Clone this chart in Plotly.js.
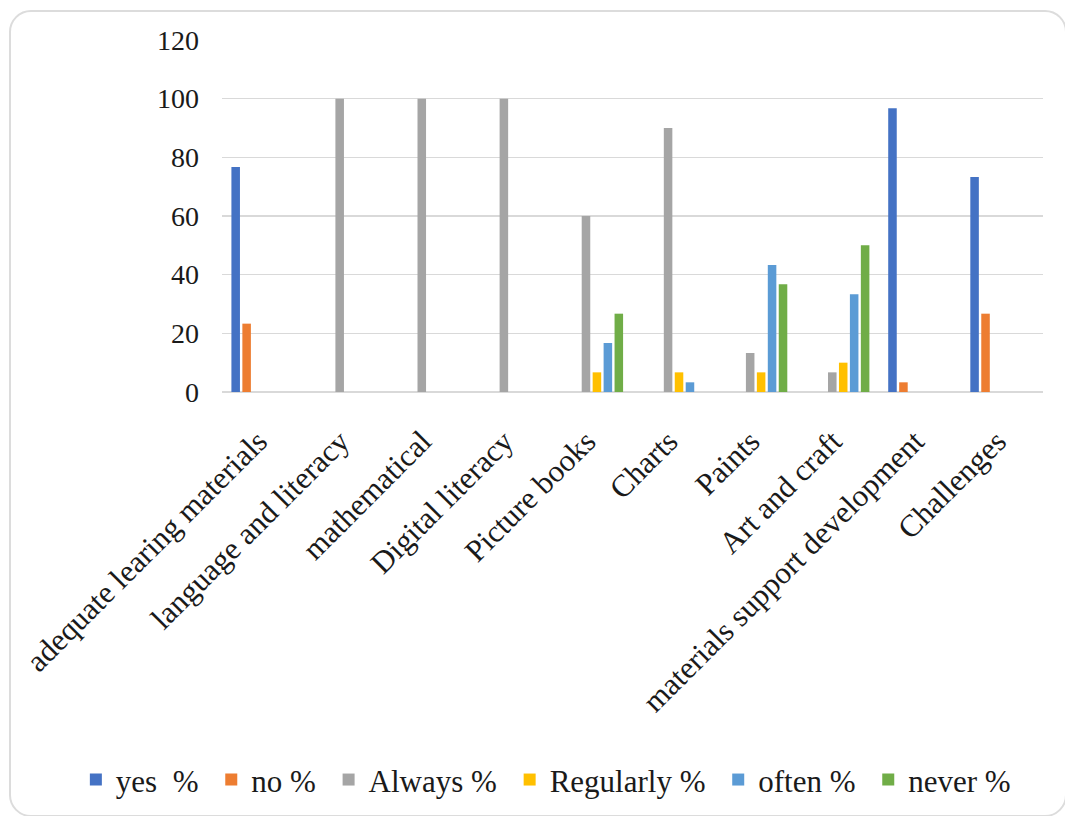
<!DOCTYPE html>
<html>
<head>
<meta charset="utf-8">
<script src="https://cdn.plot.ly/plotly-3.0.1.min.js"></script>
<style>
  html, body { margin: 0; padding: 0; background: #ffffff; }
  #wrap { position: relative; width: 1065px; height: 816px; overflow: hidden; }
  #chart { position: absolute; left: 0; top: 0; width: 1065px; height: 816px; }
  #frame {
    position: absolute; left: 9px; top: 10px; width: 1054px; height: 803px;
    border: 2px solid #dcdcdc; border-radius: 22px; pointer-events: none;
  }
</style>
</head>
<body>
<div id="wrap">
  <div id="chart"></div>
  <div id="frame"></div>
</div>
<script>
// Survey categories along the x axis
const categories = [
  "adequate learing materials",
  "language and literacy",
  "mathematical",
  "Digital literacy",
  "Picture books",
  "Charts",
  "Paints",
  "Art and craft",
  "materials support development",
  "Challenges"
];

// Percent responses per answer option (null = not asked for that item)
const yesPct       = [76.7, null, null, null, null, null, null, null, 96.7, 73.3];
const noPct        = [23.3, null, null, null, null, null, null, null, 3.3, 26.7];
const alwaysPct    = [null, 100, 100, 100, 60, 90, 13.3, 6.7, null, null];
const regularlyPct = [null, null, null, null, 6.7, 6.7, 6.7, 10, null, null];
const oftenPct     = [null, null, null, null, 16.7, 3.3, 43.3, 33.3, null, null];
const neverPct     = [null, null, null, null, 26.7, null, 36.7, 50, null, null];

// Legend labels (trailing no-break space widens the gap between entries)
const seriesNames = ["yes\u00A0\u00A0%\u00A0", "no %\u00A0", "Always %\u00A0", "Regularly %\u00A0", "often %\u00A0", "never %"];
const seriesValues = [yesPct, noPct, alwaysPct, regularlyPct, oftenPct, neverPct];
const seriesColors = ["#4472C4", "#ED7D31", "#A5A5A5", "#FFC000", "#5B9BD5", "#70AD47"];

const yTicks = [0, 20, 40, 60, 80, 100, 120];

const serif = "Liberation Serif, Times New Roman, serif";

const traces = seriesValues.map((vals, i) => ({
  type: "bar",
  name: seriesNames[i],
  x: categories,
  y: vals,
  marker: { color: seriesColors[i] },
  hoverinfo: "x+y+name"
}));

const layout = {
  width: 1065,
  height: 816,
  margin: { l: 222, r: 22, t: 40, b: 423 },
  paper_bgcolor: "rgba(0,0,0,0)",
  plot_bgcolor: "rgba(0,0,0,0)",
  barmode: "group",
  bargap: 0.2,
  bargroupgap: 0.22,
  font: { family: serif, size: 28, color: "#1a1a1a" },
  xaxis: {
    type: "category",
    tickangle: -45,
    ticks: "",
    showgrid: false,
    showline: false,
    zeroline: false,
    ticklabelstandoff: 24,
    ticklabelshift: -5,
    tickfont: { family: serif, size: 31, color: "#1a1a1a" },
    automargin: false
  },
  yaxis: {
    range: [0, 120],
    tickvals: yTicks,
    ticktext: yTicks.map(String),
    ticks: "",
    showline: false,
    showgrid: true,
    gridcolor: "#d9d9d9",
    gridwidth: 1.3,
    zeroline: true,
    zerolinecolor: "#d9d9d9",
    zerolinewidth: 1.3,
    ticklabelstandoff: 22,
    tickfont: { family: serif, size: 28, color: "#1a1a1a" },
    automargin: false
  },
  showlegend: true,
  legend: {
    orientation: "h",
    x: -0.178,
    xanchor: "left",
    y: -1.096,
    yanchor: "middle",
    font: { family: serif, size: 31, color: "#1a1a1a" },
    itemwidth: 30,
    traceorder: "normal"
  }
};

Plotly.newPlot("chart", traces, layout, { displayModeBar: false, staticPlot: true });
</script>
</body>
</html>
